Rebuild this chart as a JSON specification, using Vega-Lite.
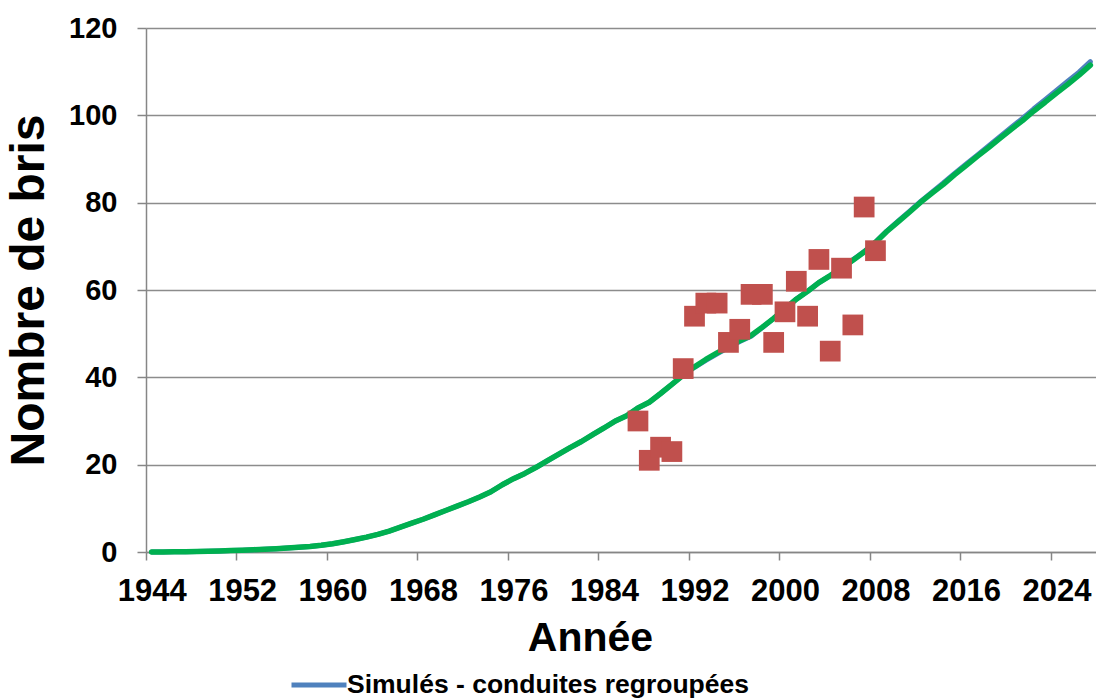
{
  "$schema": "https://vega.github.io/schema/vega-lite/v6.json",
  "autosize": {"type": "none"},
  "width": 950,
  "height": 524,
  "padding": {"left": 146, "top": 28, "right": 0, "bottom": 148},
  "background": "white",
  "config": {
    "view": {"stroke": null},
    "font": "Liberation Sans"
  },
  "datasets": {
    "courbes": [
      {"annee": 1944, "simule": 0.0, "autre": 0.0},
      {"annee": 1945, "simule": 0.02, "autre": 0.02},
      {"annee": 1946, "simule": 0.05, "autre": 0.05},
      {"annee": 1947, "simule": 0.08, "autre": 0.08},
      {"annee": 1948, "simule": 0.12, "autre": 0.12},
      {"annee": 1949, "simule": 0.17, "autre": 0.17},
      {"annee": 1950, "simule": 0.24, "autre": 0.24},
      {"annee": 1951, "simule": 0.32, "autre": 0.32},
      {"annee": 1952, "simule": 0.42, "autre": 0.42},
      {"annee": 1953, "simule": 0.52, "autre": 0.52},
      {"annee": 1954, "simule": 0.63, "autre": 0.63},
      {"annee": 1955, "simule": 0.76, "autre": 0.76},
      {"annee": 1956, "simule": 0.9, "autre": 0.9},
      {"annee": 1957, "simule": 1.07, "autre": 1.07},
      {"annee": 1958, "simule": 1.27, "autre": 1.27},
      {"annee": 1959, "simule": 1.55, "autre": 1.55},
      {"annee": 1960, "simule": 1.9, "autre": 1.9},
      {"annee": 1961, "simule": 2.35, "autre": 2.35},
      {"annee": 1962, "simule": 2.85, "autre": 2.85},
      {"annee": 1963, "simule": 3.4, "autre": 3.4},
      {"annee": 1964, "simule": 4.05, "autre": 4.05},
      {"annee": 1965, "simule": 4.8, "autre": 4.8},
      {"annee": 1966, "simule": 5.7, "autre": 5.7},
      {"annee": 1967, "simule": 6.6, "autre": 6.6},
      {"annee": 1968, "simule": 7.5, "autre": 7.5},
      {"annee": 1969, "simule": 8.5, "autre": 8.5},
      {"annee": 1970, "simule": 9.5, "autre": 9.5},
      {"annee": 1971, "simule": 10.5, "autre": 10.5},
      {"annee": 1972, "simule": 11.5, "autre": 11.5},
      {"annee": 1973, "simule": 12.6, "autre": 12.6},
      {"annee": 1974, "simule": 13.8, "autre": 13.8},
      {"annee": 1975, "simule": 15.4, "autre": 15.4},
      {"annee": 1976, "simule": 16.8, "autre": 16.8},
      {"annee": 1977, "simule": 18.0, "autre": 18.0},
      {"annee": 1978, "simule": 19.4, "autre": 19.4},
      {"annee": 1979, "simule": 20.9, "autre": 20.9},
      {"annee": 1980, "simule": 22.4, "autre": 22.4},
      {"annee": 1981, "simule": 23.9, "autre": 23.9},
      {"annee": 1982, "simule": 25.3, "autre": 25.3},
      {"annee": 1983, "simule": 26.9, "autre": 26.9},
      {"annee": 1984, "simule": 28.4, "autre": 28.4},
      {"annee": 1985, "simule": 30.0, "autre": 30.0},
      {"annee": 1986, "simule": 31.2, "autre": 31.2},
      {"annee": 1987, "simule": 33.0, "autre": 33.0},
      {"annee": 1988, "simule": 34.3, "autre": 34.3},
      {"annee": 1989, "simule": 36.3, "autre": 36.3},
      {"annee": 1990, "simule": 38.4, "autre": 38.4},
      {"annee": 1991, "simule": 40.5, "autre": 40.5},
      {"annee": 1992, "simule": 42.3, "autre": 42.4},
      {"annee": 1993, "simule": 43.9, "autre": 44.1},
      {"annee": 1994, "simule": 45.4, "autre": 45.6},
      {"annee": 1995, "simule": 46.8, "autre": 47.0},
      {"annee": 1996, "simule": 48.2, "autre": 48.4},
      {"annee": 1997, "simule": 49.4, "autre": 49.6},
      {"annee": 1998, "simule": 51.4, "autre": 51.5},
      {"annee": 1999, "simule": 53.5, "autre": 53.5},
      {"annee": 2000, "simule": 55.7, "autre": 55.7},
      {"annee": 2001, "simule": 57.9, "autre": 57.9},
      {"annee": 2002, "simule": 59.7, "autre": 59.7},
      {"annee": 2003, "simule": 61.7, "autre": 61.7},
      {"annee": 2004, "simule": 63.3, "autre": 63.3},
      {"annee": 2005, "simule": 65.0, "autre": 65.0},
      {"annee": 2006, "simule": 66.9, "autre": 66.8},
      {"annee": 2007, "simule": 68.8, "autre": 68.7},
      {"annee": 2008, "simule": 71.0, "autre": 70.9},
      {"annee": 2009, "simule": 73.5, "autre": 73.4},
      {"annee": 2010, "simule": 75.8, "autre": 75.6},
      {"annee": 2011, "simule": 78.0, "autre": 77.8},
      {"annee": 2012, "simule": 80.3, "autre": 80.1},
      {"annee": 2013, "simule": 82.4, "autre": 82.2},
      {"annee": 2014, "simule": 84.5, "autre": 84.2},
      {"annee": 2015, "simule": 86.7, "autre": 86.4},
      {"annee": 2016, "simule": 88.8, "autre": 88.5},
      {"annee": 2017, "simule": 90.9, "autre": 90.6},
      {"annee": 2018, "simule": 93.0, "autre": 92.6},
      {"annee": 2019, "simule": 95.1, "autre": 94.7},
      {"annee": 2020, "simule": 97.2, "autre": 96.8},
      {"annee": 2021, "simule": 99.3, "autre": 98.8},
      {"annee": 2022, "simule": 101.5, "autre": 101.0},
      {"annee": 2023, "simule": 103.6, "autre": 103.0},
      {"annee": 2024, "simule": 105.7, "autre": 105.1},
      {"annee": 2025, "simule": 107.8, "autre": 107.1},
      {"annee": 2026, "simule": 109.9, "autre": 109.2},
      {"annee": 2027, "simule": 112.3, "autre": 111.5}
    ],
    "observes": [
      {"annee": 1987, "bris": 30},
      {"annee": 1988, "bris": 21},
      {"annee": 1989, "bris": 24},
      {"annee": 1990, "bris": 23},
      {"annee": 1991, "bris": 42},
      {"annee": 1992, "bris": 54},
      {"annee": 1993, "bris": 57},
      {"annee": 1994, "bris": 57},
      {"annee": 1995, "bris": 48},
      {"annee": 1996, "bris": 51},
      {"annee": 1997, "bris": 59},
      {"annee": 1998, "bris": 59},
      {"annee": 1999, "bris": 48},
      {"annee": 2000, "bris": 55},
      {"annee": 2001, "bris": 62},
      {"annee": 2002, "bris": 54},
      {"annee": 2003, "bris": 67},
      {"annee": 2004, "bris": 46},
      {"annee": 2005, "bris": 65},
      {"annee": 2006, "bris": 52},
      {"annee": 2007, "bris": 79},
      {"annee": 2008, "bris": 69}
    ]
  },
  "layer": [
    {
      "data": {"name": "courbes"},
      "mark": {"type": "line", "strokeWidth": 5, "strokeCap": "round", "strokeJoin": "round"},
      "encoding": {
        "x": {
          "field": "annee",
          "type": "quantitative",
          "scale": {"domain": [1943.5, 2027.5], "nice": false, "zero": false},
          "axis": {
            "title": "Année",
            "titleFont": "Liberation Sans",
            "titleFontSize": 41,
            "titleFontWeight": "bold",
            "titleColor": "#000000",
            "titleX": 444,
            "titleY": 98,
            "titleAlign": "center",
            "titleBaseline": "alphabetic",
            "values": [1944, 1952, 1960, 1968, 1976, 1984, 1992, 2000, 2008, 2016, 2024],
            "format": "d",
            "labelFont": "Liberation Sans",
            "labelFontSize": 31,
            "labelFontWeight": "bold",
            "labelColor": "#000000",
            "labelPadding": 16,
            "labelFlush": false,
            "labelOverlap": false,
            "tickOffset": -5.65,
            "labelOffset": 5.65,
            "tickSize": 8,
            "tickWidth": 1.5,
            "tickColor": "#868686",
            "domainColor": "#868686",
            "domainWidth": 1.5,
            "grid": false
          }
        },
        "y": {
          "field": "simule",
          "type": "quantitative",
          "scale": {"domain": [0, 120], "nice": false},
          "axis": {
            "title": "Nombre de bris",
            "titleFont": "Liberation Sans",
            "titleFontSize": 48,
            "titleFontWeight": "bold",
            "titleColor": "#000000",
            "titleAngle": 270,
            "titleX": -103,
            "titleY": 262,
            "titleAlign": "center",
            "titleBaseline": "alphabetic",
            "values": [0, 20, 40, 60, 80, 100, 120],
            "labelFont": "Liberation Sans",
            "labelFontSize": 29,
            "labelFontWeight": "bold",
            "labelColor": "#000000",
            "labelPadding": 20,
            "labelFlush": false,
            "tickSize": 9,
            "tickWidth": 1.5,
            "tickColor": "#868686",
            "domainColor": "#868686",
            "domainWidth": 1.5,
            "grid": true,
            "gridColor": "#8c8c8c",
            "gridWidth": 1.5
          }
        },
        "color": {
          "datum": "Simulés - conduites regroupées",
          "type": "nominal",
          "scale": {"range": ["#4F81BD"]},
          "legend": {
            "title": null,
            "orient": "none",
            "legendX": 143,
            "legendY": 627,
            "padding": 0,
            "symbolType": "stroke",
            "symbolSize": 3025,
            "symbolStrokeWidth": 5,
            "labelFont": "Liberation Sans",
            "labelFontSize": 26.5,
            "labelFontWeight": "bold",
            "labelColor": "#000000",
            "labelOffset": -2,
            "labelLimit": 600
          }
        }
      }
    },
    {
      "data": {"name": "courbes"},
      "mark": {"type": "line", "strokeWidth": 5.5, "color": "#00B050", "strokeCap": "round", "strokeJoin": "round"},
      "encoding": {
        "x": {"field": "annee", "type": "quantitative"},
        "y": {"field": "autre", "type": "quantitative"}
      }
    },
    {
      "data": {"name": "observes"},
      "mark": {"type": "point", "shape": "square", "filled": true, "size": 430, "color": "#C0504D", "opacity": 1},
      "encoding": {
        "x": {"field": "annee", "type": "quantitative"},
        "y": {"field": "bris", "type": "quantitative"}
      }
    }
  ]
}
